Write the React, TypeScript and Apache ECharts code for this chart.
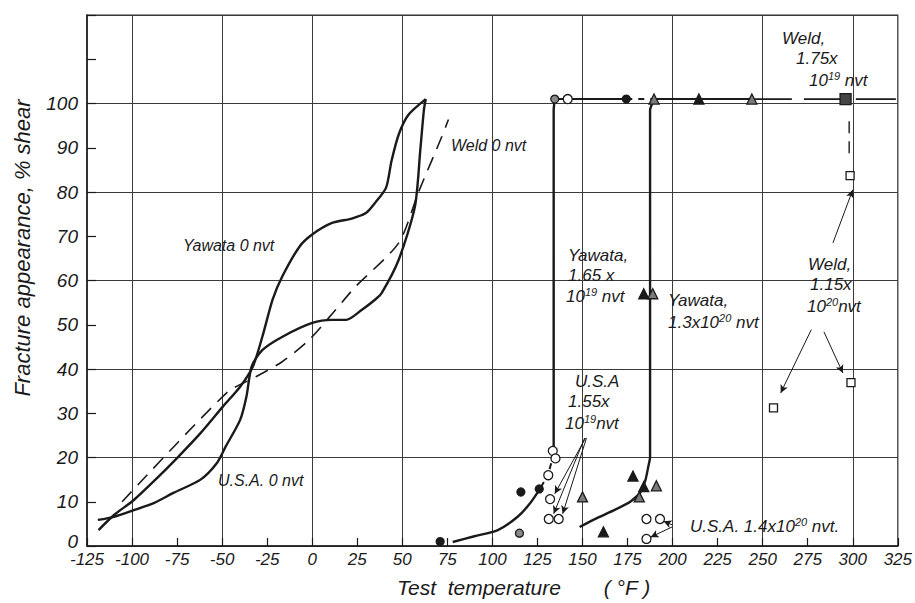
import React, { useEffect, useRef } from "react";
import * as echarts from "echarts";

// ---- data (°F, % shear) ----
const yawata0X = [-118.6, -110, -99, -86, -74.5, -62, -49.6, -40, -33, -27.6, -22, -16.5, -7, 0, 11, 22, 30, 35, 41, 44, 48, 53.5, 63];
const yawata0Y = [3.6, 7, 10.4, 15.4, 20.1, 25.5, 31.5, 36, 40.5, 47.4, 55.7, 61, 67.7, 70.4, 73, 74, 75.3, 77.6, 81, 87, 93, 97.5, 101];

const usa0X = [-119, -110, -99, -88, -77, -62, -53, -48, -40, -36.5, -33.6, -27.6, -16.5, 0, 11, 18.8, 27.6, 35, 38.6, 48, 57, 60, 62, 63];
const usa0Y = [5.9, 6.6, 8.1, 9.7, 12, 15, 18.7, 22.5, 28.5, 33.8, 40.6, 44.3, 47.3, 50.4, 51.1, 51.1, 53.4, 55.7, 57.2, 64.7, 76.7, 89.6, 98.6, 101];

const weld0X = [-105.5, -47.5, -31, -16.5, -1.7, 13, 24, 48, 59, 72, 75.6];
const weld0Y = [10, 34.6, 38.3, 41.7, 46.6, 53.4, 58.6, 68.5, 80, 92.6, 96.4];

const yawata165LowX = [78, 90, 103, 114, 121, 127];
const yawata165LowY = [0.9, 2.2, 3.6, 6.6, 9.7, 13.3];
const yawata165MidX = [127, 131, 133.5];
const yawata165MidY = [13.3, 16.5, 20];
const yawata165UpX = [134, 134, 134.6];
const yawata165UpY = [22, 98.5, 101];

const yawata13X = [148.4, 158, 167.6, 176.5, 182, 185, 186.5, 187.5, 187.5, 189.7];
const yawata13Y = [4.3, 6.3, 8.1, 10, 12, 15, 17.9, 20, 98.5, 101];

const plateauSolidAX = [134.6, 174.3];
const plateauDashAX = [174.3, 189.7];
const plateauSolidBX = [189.7, 244];
const plateauDashBX = [244, 325];
const plateauY = 101;

const weldVertX = [298, 298];
const weldVertY = [96, 87];

const filledCircles = [[71, 1], [115.8, 12.2], [126, 12.9], [174.3, 101]];
const halfCircles = [[134.6, 101], [115, 2.9]];
const openCircles = [[131, 16], [133.5, 21.5], [135, 19.8], [132, 10.6], [131.3, 6.1], [136.8, 6.1], [141.8, 101], [185.5, 6.1], [193, 6.1], [185.5, 1.6]];
const filledTriangles = [[178, 15.8], [184, 13.4], [161.6, 3.2], [214.6, 101], [184, 57]];
const hatchedTriangles = [[191, 13.6], [181.5, 11.1], [150, 11.1], [189.7, 101], [244, 101], [189, 57]];
const openSquares = [[298.5, 83.7], [299, 36.9], [256, 31.2]];
const filledSquares = [[296, 101]];

// arrows: [fromX, fromY, toX, toY]
const arrows = [
  [289, 68.5, 300, 80.5],
  [277, 48.9, 260, 34.6],
  [284, 48.4, 294.5, 39.1],
  [151.7, 24.4, 134.6, 11.8],
  [151.2, 24.4, 134, 7.3],
  [152.2, 24.4, 139, 7.3],
  [199.7, 4.8, 195, 5.6],
  [199.7, 4.3, 187.8, 2],
];

const xTicks = { min: -125, max: 325, step: 25 };
const yTicks = { min: 0, max: 120, step: 10, lastLabel: 100 };

const FONT = "Liberation Sans";
const INK = "#1a1a1a";

function zip(xs: number[], ys: number[]) {
  return xs.map((x, i) => [x, ys[i]]);
}
function flat(xs: number[], y: number) {
  return xs.map((x) => [x, y]);
}

export default function App() {
  const ref = useRef<HTMLDivElement>(null);
  useEffect(() => {
    if (!ref.current) return;
    const chart = echarts.init(ref.current, undefined, { renderer: "svg" });
    const lineBase = (data: number[][], type: any = "solid", smooth: number | boolean = 0.25, width = 2.4) => ({
      type: "line",
      data,
      smooth,
      symbol: "none",
      silent: true,
      lineStyle: { color: INK, width, type },
      z: 3,
    });
    const scatter = (data: number[][], symbol: string, size: number, fill: string, border = INK) => ({
      type: "scatter",
      data,
      symbol,
      symbolSize: size,
      silent: true,
      itemStyle: { color: fill, borderColor: border, borderWidth: 1.3, opacity: 1 },
      z: 5,
    });
    const txt = (x: number, y: number, text: string, size = 17) => ({
      type: "text",
      x,
      y,
      silent: true,
      style: {
        text,
        fill: INK,
        fontSize: size,
        fontFamily: FONT,
        fontStyle: "italic",
        lineHeight: size + 2,
        textAlign: "left",
        textVerticalAlign: "middle",
        rich: {
          s: {
            fontSize: Math.round(size * 0.62),
            fontFamily: FONT,
            fontStyle: "italic",
            fill: INK,
            lineHeight: Math.round(size * 0.62),
            verticalAlign: "top",
          },
        },
      },
      z: 10,
    });
    const option: any = {
      animation: false,
      backgroundColor: "#ffffff",
      grid: {
        left: 87,
        right: 14,
        top: 15,
        bottom: 57,
        show: true,
        borderColor: "#2a2a2a",
        borderWidth: 1.2,
        backgroundColor: "transparent",
      },
      xAxis: {
        type: "value",
        min: xTicks.min,
        max: xTicks.max,
        interval: xTicks.step,
        axisLine: { show: true, onZero: false, lineStyle: { color: INK, width: 1.5 } },
        axisTick: { show: true, inside: true, length: 8, lineStyle: { color: INK, width: 1.2 } },
        axisLabel: {
          color: INK,
          fontFamily: FONT,
          fontStyle: "italic",
          fontSize: 17,
          margin: 5,
          formatter: (v: number) => String(v),
        },
        splitLine: {
          show: true,
          lineStyle: { color: ["rgba(0,0,0,0)", "#3a3a3a"], width: 1 },
        },
      },
      yAxis: {
        type: "value",
        min: yTicks.min,
        max: yTicks.max,
        interval: yTicks.step,
        axisLine: { show: true, onZero: false, lineStyle: { color: INK, width: 1.5 } },
        axisTick: { show: true, inside: true, length: 9, lineStyle: { color: INK, width: 1.2 } },
        axisLabel: {
          color: INK,
          fontFamily: FONT,
          fontStyle: "italic",
          fontSize: 19,
          margin: 9,
          formatter: (v: number) => (v > yTicks.lastLabel ? "" : v === 0 ? "{z|0}" : String(v)),
          rich: {
            z: {
              fontFamily: FONT,
              fontStyle: "italic",
              fontSize: 19,
              color: INK,
              padding: [0, 0, 9, 0],
            },
          },
        },
        splitLine: {
          show: true,
          lineStyle: { color: ["#3a3a3a", "rgba(0,0,0,0)"], width: 1 },
        },
      },
      series: [
        lineBase(zip(yawata0X, yawata0Y)),
        lineBase(zip(usa0X, usa0Y)),
        lineBase(zip(weld0X, weld0Y), [14, 9], 0.25, 1.6),
        lineBase(zip(yawata165LowX, yawata165LowY)),
        lineBase(zip(yawata165MidX, yawata165MidY), [6, 4], 0.2, 2),
        lineBase(zip(yawata165UpX, yawata165UpY), "solid", 0.15),
        lineBase(zip(yawata13X, yawata13Y), "solid", 0.15),
        lineBase(flat(plateauSolidAX, plateauY), "solid", false, 2),
        lineBase(flat(plateauDashAX, plateauY), [6, 6], false, 2),
        lineBase(flat(plateauSolidBX, plateauY), "solid", false, 2),
        lineBase(flat(plateauDashBX, plateauY), [40, 12], false, 1.6),
        lineBase(zip(weldVertX, weldVertY), [12, 8], false, 1.4),
        {
          type: "line",
          data: [],
          silent: true,
          markLine: {
            silent: true,
            symbol: ["none", "arrow"],
            symbolSize: [6, 8],
            label: { show: false },
            lineStyle: { color: INK, width: 1, type: "solid" },
            data: arrows.map((a) => [{ coord: [a[0], a[1]] }, { coord: [a[2], a[3]] }]),
          },
        },
        scatter(filledCircles, "circle", 8, INK),
        scatter(halfCircles, "circle", 8, "#8a8a8a"),
        scatter(openCircles, "circle", 9, "#ffffff"),
        scatter(filledTriangles, "triangle", 10, INK),
        scatter(hatchedTriangles, "triangle", 10, "#7a7a7a"),
        scatter(openSquares, "rect", 8, "#ffffff"),
        scatter(filledSquares, "rect", 11, "#444444"),
      ],
      graphic: [
        {
          type: "text",
          x: 22,
          y: 248,
          rotation: Math.PI / 2,
          silent: true,
          style: {
            text: "Fracture appearance, % shear",
            fill: INK,
            font: `italic 22px "${FONT}"`,
            textAlign: "center",
            textVerticalAlign: "middle",
          },
        },
        {
          type: "text",
          x: 479,
          y: 587,
          silent: true,
          style: {
            text: "Test  temperature",
            fill: INK,
            font: `italic 21px "${FONT}"`,
            textAlign: "center",
            textVerticalAlign: "middle",
          },
        },
        {
          type: "text",
          x: 627,
          y: 587,
          silent: true,
          style: {
            text: "( °F )",
            fill: INK,
            font: `italic 21px "${FONT}"`,
            textAlign: "center",
            textVerticalAlign: "middle",
          },
        },
        txt(183, 245, "Yawata 0 nvt", 16),
        txt(451, 145, "Weld 0 nvt", 16),
        txt(218, 480, "U.S.A. 0 nvt", 16),
        txt(568, 255, "Yawata,"),
        txt(568, 275, "1.65 x"),
        txt(566, 296, "10{s|19} nvt"),
        txt(668, 300, "Yawata,"),
        txt(668, 322, "1.3x10{s|20} nvt"),
        txt(782, 38, "Weld,"),
        txt(796, 58, "1.75x"),
        txt(809, 80, "10{s|19} nvt"),
        txt(808, 264, "Weld,"),
        txt(810, 284, "1.15x"),
        txt(807, 306, "10{s|20}nvt"),
        txt(575, 381, "U.S.A"),
        txt(568, 401, "1.55x"),
        txt(565, 423, "10{s|19}nvt"),
        txt(690, 526, "U.S.A. 1.4x10{s|20} nvt."),
      ],
    };
    chart.setOption(option);
    return () => chart.dispose();
  }, []);
  return (
    <div
      ref={ref}
      style={{ position: "fixed", left: 0, top: 0, width: 915, height: 603, background: "#fff" }}
    />
  );
}
